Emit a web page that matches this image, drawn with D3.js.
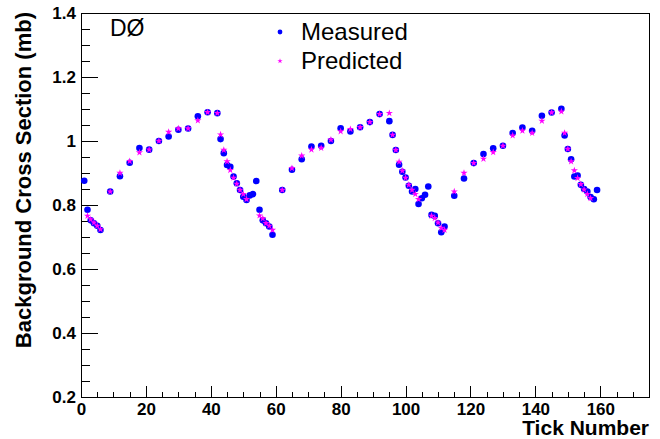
<!DOCTYPE html>
<html>
<head>
<meta charset="utf-8">
<script src="https://cdn.jsdelivr.net/npm/d3@7"></script>
<style>
  html, body { margin: 0; padding: 0; background: #fff; }
  svg { display: block; }
  text { font-family: "Liberation Sans", Arial, Helvetica, sans-serif; }
</style>
</head>
<body>
<svg id="chart" width="660" height="439"></svg>
<script>
// ---- data ----
const measuredTicks = [1,2,3,4,5,6,9,12,15,18,21,24,27,30,33,36,39,42,43,44,45,46,47,48,49,50,51,52,53,54,55,56,57,58,59,
  62,65,68,71,74,77,80,83,86,89,92,95,96,97,98,99,100,101,102,103,104,105,106,107,108,109,110,111,112,
  115,118,121,124,127,130,133,136,139,142,145,148,149,150,151,152,153,154,155,156,157,158,159];
const measuredValues = [0.876,0.785,0.752,0.743,0.735,0.722,0.842,0.890,0.932,0.978,0.973,1.000,1.014,1.035,1.039,1.077,1.090,1.087,
  1.006,0.962,0.925,0.919,0.889,0.868,0.847,0.826,0.816,0.830,0.834,0.875,0.785,0.752,0.743,0.733,0.707,
  0.847,0.910,0.943,0.983,0.985,1.000,1.040,1.030,1.043,1.059,1.084,1.062,1.019,0.972,0.926,0.904,0.886,0.860,0.842,0.850,0.803,
  0.821,0.832,0.858,0.769,0.766,0.743,0.715,0.733,
  0.829,0.883,0.931,0.959,0.977,0.985,1.025,1.042,1.032,1.079,1.089,1.101,1.017,0.975,0.943,0.889,0.892,0.863,0.850,0.842,0.825,0.818,0.847];

const predictedTicks = [2,3,4,5,6,9,12,15,18,21,24,27,30,33,36,39,42,43,44,45,46,47,48,49,50,51,55,56,57,58,59,
  62,65,68,71,74,77,80,83,86,89,92,95,96,97,98,99,100,101,102,103,104,108,109,110,111,112,
  115,118,121,124,127,130,133,136,139,142,145,148,149,150,151,152,153,154,155,156,157];
const predictedValues = [0.766,0.755,0.745,0.735,0.724,0.842,0.900,0.937,0.964,0.973,1.000,1.028,1.039,1.039,1.064,1.090,1.087,
  1.020,0.972,0.936,0.909,0.885,0.866,0.847,0.834,0.818,0.767,0.758,0.743,0.735,0.722,
  0.847,0.915,0.954,0.973,0.978,1.004,1.030,1.037,1.043,1.059,1.084,1.087,1.019,0.972,0.935,0.907,0.885,0.863,0.847,0.834,0.818,
  0.766,0.759,0.745,0.728,0.722,
  0.842,0.900,0.931,0.944,0.965,0.985,1.017,1.032,1.025,1.063,1.089,1.092,1.025,0.975,0.936,0.908,0.884,0.865,0.848,0.834,0.821];

const xMajorTicks = [0,20,40,60,80,100,120,140,160];
const yMajorTicks = [0.2,0.4,0.6,0.8,1.0,1.2,1.4];
const yTickLabels = ["0.2","0.4","0.6","0.8","1","1.2","1.4"];
const seriesNames = ["Measured","Predicted"];
const experimentLabel = "DØ";
const xTitle = "Tick Number";
const yTitle = "Background Cross Section (mb)";

// ---- layout ----
const svg = d3.select("#chart");
const L = 81, R = 649, T = 13, B = 397;
const x = d3.scaleLinear().domain([0, 175]).range([L, R]);
const y = d3.scaleLinear().domain([0.2, 1.4]).range([B, T]);

const xMinor = d3.range(0, 176, 5).filter(v => v % 20 !== 0);
const yMinor = d3.range(4, 29).map(v => +(v * 0.05).toFixed(2)).filter(v => Math.abs(v * 5 - Math.round(v * 5)) > 1e-6);

// x axis
const gx = svg.append("g").attr("transform", `translate(0,${B})`);
gx.call(d3.axisBottom(x).tickValues(xMajorTicks).tickSize(-11).tickSizeOuter(0).tickPadding(6).tickFormat(d3.format("d")));
gx.append("g").call(d3.axisBottom(x).tickValues(xMinor).tickSize(-5.5).tickSizeOuter(0).tickFormat(""));
gx.selectAll(".domain").remove();
gx.selectAll("text").attr("font-size", 17).attr("font-weight", "bold").attr("fill", "#000")
  .attr("font-family", "'Liberation Sans', Arial, sans-serif");

// y axis
const gy = svg.append("g").attr("transform", `translate(${L},0)`);
gy.call(d3.axisLeft(y).tickValues(yMajorTicks).tickSize(-17).tickSizeOuter(0).tickPadding(5)
  .tickFormat((d, i) => yTickLabels[i]));
gy.append("g").call(d3.axisLeft(y).tickValues(yMinor).tickSize(-8.5).tickSizeOuter(0).tickFormat(""));
gy.selectAll(".domain").remove();
gy.selectAll("text").attr("font-size", 17).attr("font-weight", "bold").attr("fill", "#000")
  .attr("font-family", "'Liberation Sans', Arial, sans-serif");

svg.selectAll(".tick line").attr("stroke", "#000").attr("shape-rendering", "crispEdges");

// frame
svg.append("rect").attr("x", L).attr("y", T).attr("width", R - L).attr("height", B - T)
  .attr("fill", "none").attr("stroke", "#000").attr("stroke-width", 1).attr("shape-rendering", "crispEdges");

// data: measured
svg.append("g").selectAll("circle").data(measuredTicks).join("circle")
  .attr("cx", d => x(d)).attr("cy", (d, i) => y(measuredValues[i]))
  .attr("r", 3.3).attr("fill", "#0000ff");

// data: predicted
const star = d3.symbol().type(d3.symbolStar).size(16);
svg.append("g").selectAll("path").data(predictedTicks).join("path")
  .attr("transform", (d, i) => `translate(${x(d)},${y(predictedValues[i])})`)
  .attr("d", star).attr("fill", "#ff00ff");

// titles
svg.append("text").attr("x", R).attr("y", 435).attr("text-anchor", "end")
  .attr("font-size", 21).attr("font-weight", "bold").text(xTitle);
svg.append("text").attr("transform", `translate(31,12) rotate(-90)`).attr("text-anchor", "end")
  .attr("font-size", 22).attr("font-weight", "bold").text(yTitle);

// experiment label
svg.append("text").attr("x", 110).attr("y", 36).attr("font-size", 23).text(experimentLabel);

// legend
svg.append("circle").attr("cx", 280).attr("cy", 32).attr("r", 2.4).attr("fill", "#0000ff");
svg.append("path").attr("transform", "translate(280,61)").attr("d", d3.symbol().type(d3.symbolStar).size(9)).attr("fill", "#ff00ff");
svg.append("text").attr("x", 301).attr("y", 40).attr("font-size", 24).text(seriesNames[0]);
svg.append("text").attr("x", 301).attr("y", 69).attr("font-size", 24).text(seriesNames[1]);
</script>
</body>
</html>
